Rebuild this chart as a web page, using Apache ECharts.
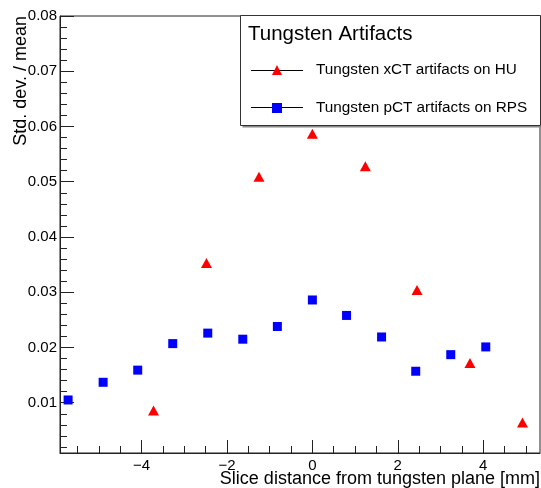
<!DOCTYPE html>
<html>

<head>
    <meta charset="UTF-8">
    <title>Tungsten Artifacts</title>
    <script src="https://cdn.jsdelivr.net/npm/echarts@6/dist/echarts.min.js"></script>
</head>

<body style="margin:0;">
    <div id="chartBox" style="width:541px;height:488px;"></div>

    <script>
        // xCT artifacts (HU) - red triangles
        var xctX = [-3.72, -2.48, -1.25, 0, 1.24, 2.45, 3.69, 4.92];
        var xctY = [0.0086, 0.0353, 0.0509, 0.0587, 0.0528, 0.0304, 0.0172, 0.0064];

        // pCT artifacts (RPS) - blue squares
        var pctX = [-5.72, -4.90, -4.09, -3.27, -2.45, -1.63, -0.82, 0, 0.80, 1.62, 2.42, 3.24, 4.06];
        var pctY = [0.0105, 0.0137, 0.0159, 0.0207, 0.0226, 0.0215, 0.0238, 0.0286, 0.0258, 0.0219, 0.0157, 0.0187, 0.0201];

        // axis ticks
        var xMajor = [-4, -2, 0, 2, 4];
        var yMajor = [0.01, 0.02, 0.03, 0.04, 0.05, 0.06, 0.07, 0.08];

        var seriesNames = ['Tungsten xCT artifacts on HU', 'Tungsten pCT artifacts on RPS'];

        var xMin = -5.91, xMax = 5.33;
        var yMin = 0.0009, yMax = 0.08;

        // minor ticks every 0.5 on x and 0.002 on y
        var xMinor = [];
        for (var i = -11; i <= 10; i++) xMinor.push(i * 0.5);
        var yMinor = [];
        for (var j = 1; j <= 40; j++) yMinor.push(j * 0.002);

        function pairs(xs, ys) {
            return xs.map(function (x, k) { return [x, ys[k]]; });
        }

        var font = 'Liberation Sans, Arial, sans-serif';
        var axisColor = '#222';

        var myChart = echarts.init(document.getElementById('chartBox'));

        var option = {
            animation: false,
            backgroundColor: '#fff',
            grid: {
                left: 60,
                top: 16,
                right: 1,
                bottom: 35,
                show: true,
                borderColor: axisColor,
                borderWidth: 1
            },
            xAxis: [{
                type: 'value',
                min: xMin,
                max: xMax,
                position: 'bottom',
                axisLine: { show: true, onZero: false, lineStyle: { color: axisColor } },
                axisTick: { show: true, inside: true, length: 13, customValues: xMajor, lineStyle: { color: axisColor } },
                axisLabel: {
                    customValues: xMajor,
                    margin: 5,
                    color: '#000',
                    fontSize: 15,
                    fontFamily: font,
                    formatter: function (v) { return String(v).replace('-', '\u2212'); }
                },
                splitLine: { show: false }
            }, {
                type: 'value',
                min: xMin,
                max: xMax,
                position: 'bottom',
                axisLine: { show: false, onZero: false },
                axisTick: { show: true, inside: true, length: 7, customValues: xMinor, lineStyle: { color: axisColor } },
                axisLabel: { show: false },
                splitLine: { show: false }
            }],
            yAxis: [{
                type: 'value',
                min: yMin,
                max: yMax,
                position: 'left',
                axisLine: { show: true, onZero: false, lineStyle: { color: axisColor } },
                axisTick: { show: true, inside: true, length: 14, customValues: yMajor, lineStyle: { color: axisColor } },
                axisLabel: {
                    customValues: yMajor,
                    margin: 3,
                    color: '#000',
                    fontSize: 15,
                    fontFamily: font,
                    formatter: function (v) { return v.toFixed(2); }
                },
                splitLine: { show: false }
            }, {
                type: 'value',
                min: yMin,
                max: yMax,
                position: 'left',
                axisLine: { show: false, onZero: false },
                axisTick: { show: true, inside: true, length: 7, customValues: yMinor, lineStyle: { color: axisColor } },
                axisLabel: { show: false },
                splitLine: { show: false }
            }],
            legend: {
                orient: 'vertical',
                left: 272,
                top: 62,
                padding: 0,
                itemWidth: 10,
                itemHeight: 10,
                itemGap: 22,
                data: [
                    { name: seriesNames[0], icon: 'triangle' },
                    { name: seriesNames[1], icon: 'rect' }
                ],
                itemStyle: { opacity: 1 },
                textStyle: {
                    color: '#000',
                    fontSize: 15.3,
                    fontFamily: font,
                    padding: [0, 0, 0, 29],
                    lineHeight: 16
                },
                z: 10
            },
            graphic: [{
                type: 'rect',
                shape: { x: 242.5, y: 17.5, width: 300, height: 110 },
                style: { fill: '#888' },
                z: 5
            }, {
                type: 'rect',
                shape: { x: 240.5, y: 15.5, width: 300, height: 110 },
                style: { fill: '#fff', stroke: '#333', lineWidth: 1 },
                z: 6
            }, {
                type: 'text',
                x: 248,
                y: 34,
                style: {
                    text: 'Tungsten Artifacts',
                    fontSize: 20.5,
                    fontFamily: font,
                    fill: '#000',
                    verticalAlign: 'middle'
                },
                z: 7
            }, {
                type: 'line',
                shape: { x1: 251, y1: 70.5, x2: 303, y2: 70.5 },
                style: { stroke: '#000', lineWidth: 1 },
                z: 7
            }, {
                type: 'line',
                shape: { x1: 251, y1: 107.5, x2: 303, y2: 107.5 },
                style: { stroke: '#000', lineWidth: 1 },
                z: 7
            }, {
                type: 'text',
                x: 21,
                y: 16,
                rotation: Math.PI / 2,
                style: {
                    text: 'Std. dev. / mean',
                    fontSize: 18,
                    fontFamily: font,
                    fill: '#000',
                    align: 'right',
                    verticalAlign: 'middle'
                }
            }, {
                type: 'text',
                x: 540,
                y: 479,
                style: {
                    text: 'Slice distance from tungsten plane [mm]',
                    fontSize: 18,
                    fontFamily: font,
                    fill: '#000',
                    align: 'right',
                    verticalAlign: 'middle'
                }
            }],
            series: [{
                name: seriesNames[0],
                type: 'scatter',
                symbol: 'triangle',
                symbolSize: [11, 10],
                itemStyle: { color: '#ff0000', opacity: 1 },
                data: pairs(xctX, xctY),
                z: 3
            }, {
                name: seriesNames[1],
                type: 'scatter',
                symbol: 'rect',
                symbolSize: 9,
                itemStyle: { color: '#0000ff', opacity: 1 },
                data: pairs(pctX, pctY),
                z: 3
            }]
        };

        myChart.setOption(option);
    </script>
</body>

</html>
